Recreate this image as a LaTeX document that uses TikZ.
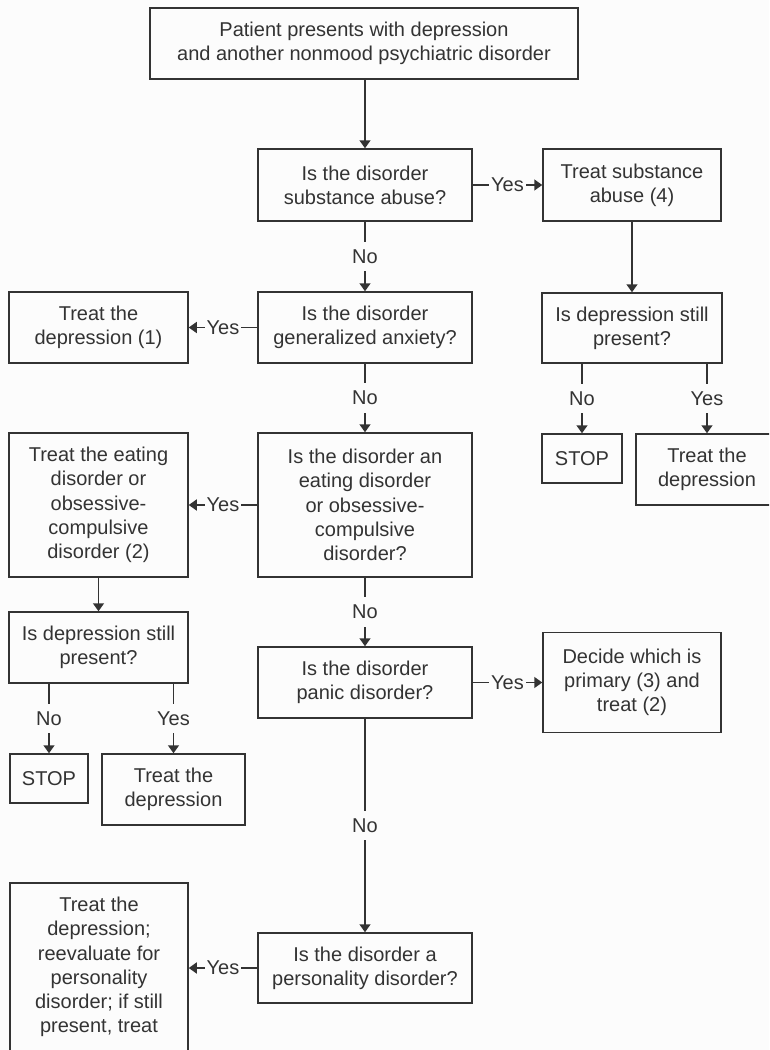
\documentclass[tikz,border=0pt]{standalone}
\usepackage{fontspec}
\setmainfont{Liberation Sans}
\usetikzlibrary{arrows.meta}
\definecolor{ink}{HTML}{333333}
\definecolor{paper}{HTML}{FCFCFC}

\begin{document}
\begin{tikzpicture}[x=1pt, y=-1pt,
  box/.style={draw=ink, line width=1.5pt, text=ink, align=center, inner sep=0pt,
    font=\fontsize{20pt}{24.3pt}\selectfont},
  arr/.style={draw=ink, line width=1.5pt, -{Triangle[length=8pt,width=11pt]}},
  lbl/.style={fill=paper, text=ink, inner xsep=2pt, inner ysep=8pt,
    font=\fontsize{20pt}{24pt}\selectfont}]
\fill[paper] (0,0) rectangle (769,1050);
\clip (0,0) rectangle (769,1050);

% Start
\node[box, minimum width=428pt, minimum height=71pt] (start) at (364,43.5) {Patient presents with depression\\and another nonmood psychiatric disorder};

% Main column of questions
\node[box, minimum width=214pt, minimum height=72pt] (q1) at (365,185) {Is the disorder\\substance abuse?};
\node[box, minimum width=214pt, minimum height=71pt] (q2) at (365,327.5) {Is the disorder\\generalized anxiety?};
\node[box, minimum width=214pt, minimum height=144pt] (q3) at (365,505) {Is the disorder an\\eating disorder\\or obsessive-\\compulsive\\disorder?};
\node[box, minimum width=214pt, minimum height=71pt] (q4) at (365,682.5) {Is the disorder\\panic disorder?};
\node[box, minimum width=214pt, minimum height=70pt] (q5) at (365,968) {Is the disorder a\\personality disorder?};

% Right branch: substance abuse
\node[box, minimum width=178pt, minimum height=72pt] (treatsub) at (632,185) {Treat substance\\abuse (4)};
\node[box, minimum width=180pt, minimum height=70pt] (stillR) at (632,328) {Is depression still\\present?};
\node[box, minimum width=80pt, minimum height=49pt] (stopR) at (582,458.5) {STOP};
\node[box, minimum width=142pt, minimum height=71pt] (treatR) at (707,469.5) {Treat the\\depression};
\node[box, minimum width=178pt, minimum height=100pt] (decide) at (632,682.5) {Decide which is\\primary (3) and\\treat (2)};

% Left branch
\node[box, minimum width=179pt, minimum height=71pt] (treatdep1) at (98.5,327.5) {Treat the\\depression (1)};
\node[box, minimum width=179pt, minimum height=144pt] (treateat) at (98.5,505) {Treat the eating\\disorder or\\obsessive-\\compulsive\\disorder (2)};
\node[box, minimum width=179pt, minimum height=71pt] (stillL) at (98.5,647.5) {Is depression still\\present?};
\node[box, minimum width=78pt, minimum height=49pt] (stopL) at (49,778.5) {STOP};
\node[box, minimum width=143pt, minimum height=71pt] (treatL) at (173.5,789.5) {Treat the\\depression};
\node[box, minimum width=178pt, minimum height=168pt] (final) at (99,967) {Treat the\\depression;\\reevaluate for\\personality\\disorder; if still\\present, treat};

% Connectors
\draw[arr] (start.south -| q1.north) -- (q1.north);
\draw[arr] (q1.east) -- node[lbl] {Yes} (q1.east -| treatsub.west);
\draw[arr] (q1.south) -- node[lbl] {No} (q2.north);
\draw[arr] (q2.west) -- node[lbl] {Yes} (q2.west -| treatdep1.east);
\draw[arr] (q2.south) -- node[lbl] {No} (q3.north);
\draw[arr] (q3.west) -- node[lbl] {Yes} (q3.west -| treateat.east);
\draw[arr] (q3.south) -- node[lbl] {No} (q4.north);
\draw[arr] (q4.east) -- node[lbl] {Yes} (q4.east -| decide.west);
\draw[arr] (q4.south) -- node[lbl] {No} (q5.north);
\draw[arr] (q5.west) -- node[lbl] {Yes} (q5.west -| final.east);

\draw[arr] (treatsub.south) -- (stillR.north);
\draw[arr] (stillR.south -| stopR.north) -- node[lbl] {No} (stopR.north);
\draw[arr] (stillR.south -| treatR.north) -- node[lbl] {Yes} (treatR.north);

\draw[arr] (treateat.south) -- (stillL.north);
\draw[arr] (stillL.south -| stopL.north) -- node[lbl] {No} (stopL.north);
\draw[arr] (stillL.south -| treatL.north) -- node[lbl] {Yes} (treatL.north);
\end{tikzpicture}
\end{document}
